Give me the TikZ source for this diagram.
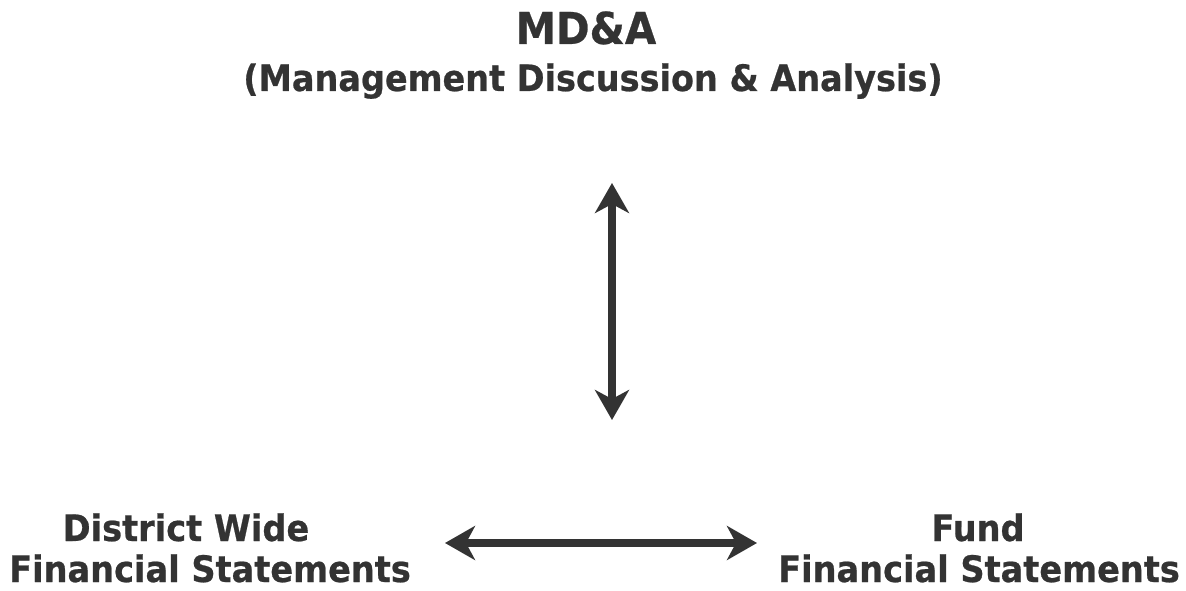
\documentclass[tikz,border=0pt]{standalone}
\usepackage{fontspec}
\usepackage{xcolor}
\usetikzlibrary{arrows.meta}
\setmainfont{DejaVu Sans}
\newfontfamily\headfont[FakeStretch=0.92, FakeBold=0.6]{DejaVu Sans}
\definecolor{inkgray}{HTML}{333333}

\begin{document}
\begin{tikzpicture}[x=1pt, y=1pt,
    every node/.style={text=inkgray, inner sep=0pt},
    twoway/.style={{Stealth[length=30pt, width=34pt, inset=9pt]}-{Stealth[length=30pt, width=34pt, inset=9pt]}, line width=8pt, draw=inkgray}]
                                \useasboundingbox (0, 0) rectangle (1186, 590);
                                \node (mda) at (586, 546) [anchor=base, font=\headfont\bfseries\fontsize{44}{48}\selectfont] {MD\&A};
                                \node (mdafull) at (593, 499) [anchor=base, font=\headfont\bfseries\fontsize{36.4}{40}\selectfont] {(Management Discussion \& Analysis)};
                                \node (dist) at (186, 49) [anchor=base, font=\headfont\bfseries\fontsize{36.5}{40}\selectfont] {District Wide};
                                \node (distfs) at (210, 8) [anchor=base, font=\headfont\bfseries\fontsize{36.5}{40}\selectfont] {Financial Statements};
                                \node (fund) at (978, 49) [anchor=base, font=\headfont\bfseries\fontsize{36.5}{40}\selectfont] {Fund};
                                \node (fundfs) at (979, 8) [anchor=base, font=\headfont\bfseries\fontsize{36.5}{40}\selectfont] {Financial Statements};

                                \coordinate (up) at (612, 407);
                                \coordinate (down) at (612, 170);
                                \coordinate (left) at (445, 47);
                                \coordinate (right) at (757, 47);

                                \draw[twoway] (up) to (down);
                                \draw[twoway] (left) to (right);
                            \end{tikzpicture}
\end{document}
